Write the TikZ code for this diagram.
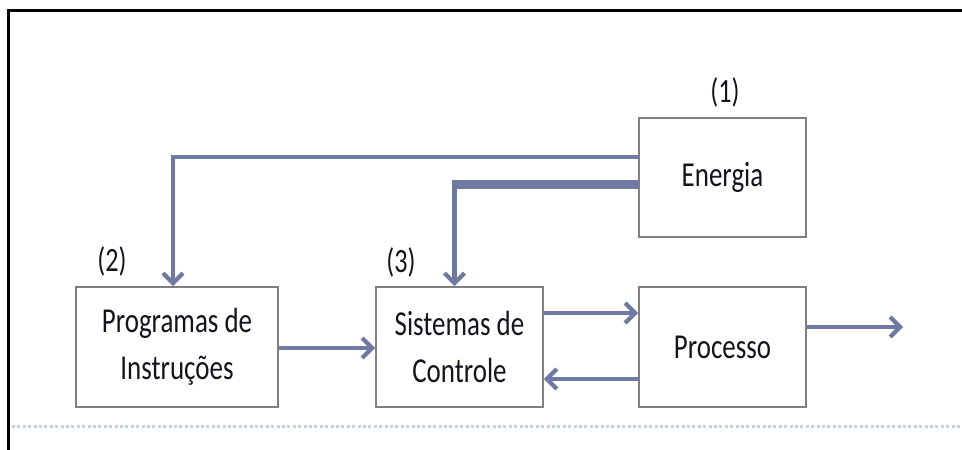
\documentclass[tikz,border=0pt]{standalone}
\usepackage{fontspec}
\setmainfont{Carlito}
\usepackage{graphicx}
\usetikzlibrary{arrows.meta}
\definecolor{arr}{RGB}{110,121,164}
\definecolor{boxline}{RGB}{128,128,128}
\definecolor{dotc}{RGB}{196,208,228}
\definecolor{txt}{RGB}{20,20,30}
\newcommand\sq[1]{\scalebox{0.77}[1]{#1}}
\tikzset{
  box/.style={draw=boxline, line width=1.8pt, fill=white, minimum width=167pt, minimum height=119pt,
    inner sep=0pt, align=center, text=txt, font=\fontsize{35}{47}\selectfont},
  lbl/.style={inner sep=0pt, text=txt, font=\fontsize{34}{40}\selectfont},
  conn/.style={draw=arr, line width=4.2pt},
  tip/.style={-{Straight Barb[length=10pt,width=20pt]}}
}
\begin{document}
\begin{tikzpicture}[x=1pt,y=-1pt]
\useasboundingbox (0,0) rectangle (962,450);
% frame
\draw[black, line width=2.4pt] (8.5,450) -- (8.5,10.5) -- (962,10.5);
\draw[dotc, line width=3pt, dash pattern=on 3pt off 2.4pt] (12,426) -- (962,426);
% boxes
\node[box] (E) at (722.5,177.5) {\sq{Energia}};
\node[box, minimum width=202pt, minimum height=120pt] (P) at (177,347) {\sq{Programas de}\\\sq{Instruções}};
\node[box, minimum height=120pt] (S) at (459.5,347) {\sq{Sistemas de}\\\sq{Controle}};
\node[box, minimum height=120pt] (R) at (722.5,347) {\sq{Processo}};
% labels
\node[lbl] (l1) at (725,92) {\sq{(1)}};
\node[lbl] (l2) at (112,261) {\sq{(2)}};
\node[lbl] (l3) at (401,262) {\sq{(3)}};
% connector helpers
\coordinate (a1) at (173,157);
\coordinate (a2) at (454.5,184.5);
\coordinate (a3) at (452.3,184.5);
\coordinate (b1) at (0,313);
\coordinate (b2) at (0,379);
\coordinate (b3) at (0,327);
\coordinate (out) at (903,327);
% connectors
\draw[conn, tip] (E.west |- a1) -| (P.north -| a1);
\draw[conn, tip] (E.west |- a2) -| (S.north -| a2);
\draw[draw=arr, line width=8.5pt] (E.west |- a3) -- (a3);
\draw[conn, tip] (P.east |- 0,348) -- (S.west |- 0,348);
\draw[conn, tip] (S.east |- b1) -- (R.west |- b1);
\draw[conn, tip] (R.west |- b2) -- (S.east |- b2);
\draw[conn, tip] (R.east |- b3) -- (out);
\end{tikzpicture}
\end{document}
